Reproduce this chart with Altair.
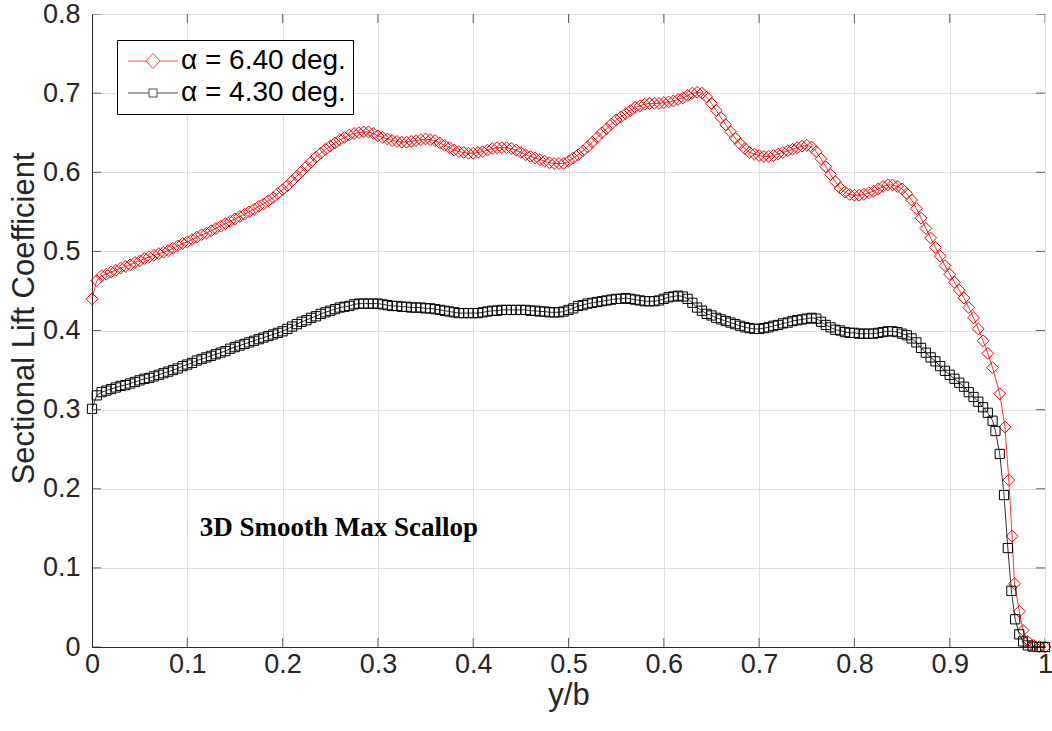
import altair as alt
import pandas as pd

# ---------------- data ----------------
x_main = [round(i * 0.005, 3) for i in range(190)]  # spanwise stations 0 .. 0.945

cl_red_main = [
    0.440, 0.463, 0.469, 0.471, 0.474, 0.476, 0.479, 0.481, 0.483, 0.486,
    0.488, 0.491, 0.493, 0.495, 0.497, 0.499, 0.501, 0.504, 0.507, 0.510,
    0.512, 0.515, 0.518, 0.521, 0.523, 0.526, 0.529, 0.532, 0.535, 0.538,
    0.541, 0.544, 0.547, 0.550, 0.553, 0.557, 0.560, 0.564, 0.568, 0.573,
    0.578, 0.583, 0.589, 0.595, 0.601, 0.607, 0.613, 0.619, 0.624, 0.629,
    0.633, 0.637, 0.641, 0.644, 0.647, 0.649, 0.650, 0.651, 0.651, 0.649,
    0.646, 0.644, 0.642, 0.640, 0.639, 0.638, 0.638, 0.639, 0.640, 0.641,
    0.642, 0.641, 0.640, 0.637, 0.634, 0.631, 0.628, 0.626, 0.625, 0.624,
    0.624, 0.625, 0.626, 0.628, 0.630, 0.631, 0.631, 0.631, 0.630, 0.628,
    0.625, 0.622, 0.620, 0.618, 0.616, 0.614, 0.612, 0.611, 0.611, 0.611,
    0.614, 0.618, 0.622, 0.627, 0.632, 0.638, 0.644, 0.650, 0.655, 0.661,
    0.666, 0.670, 0.674, 0.678, 0.682, 0.684, 0.686, 0.687, 0.687, 0.687,
    0.688, 0.689, 0.690, 0.692, 0.694, 0.697, 0.700, 0.701, 0.700, 0.695,
    0.687, 0.678, 0.669, 0.660, 0.651, 0.643, 0.636, 0.630, 0.625, 0.623,
    0.621, 0.620, 0.620, 0.621, 0.623, 0.625, 0.627, 0.629, 0.631, 0.633,
    0.634, 0.632, 0.626, 0.617, 0.607, 0.597, 0.588, 0.580, 0.575, 0.572,
    0.571, 0.571, 0.572, 0.574, 0.576, 0.579, 0.582, 0.584, 0.584, 0.582,
    0.579, 0.573, 0.565, 0.554, 0.542, 0.529, 0.517, 0.505, 0.494, 0.482,
    0.471, 0.461, 0.451, 0.441, 0.429, 0.416, 0.402, 0.387, 0.371, 0.353,
]
x_red_tip = [0.9525, 0.958, 0.962, 0.9655, 0.968, 0.973, 0.977, 0.982, 0.988, 0.994, 1.0]
cl_red_tip = [0.320, 0.278, 0.211, 0.140, 0.080, 0.045, 0.021, 0.007, 0.002, 0.0005, 0.0]

cl_black_main = [
    0.301, 0.318, 0.322, 0.324, 0.326, 0.328, 0.330, 0.331, 0.333, 0.335,
    0.337, 0.339, 0.340, 0.342, 0.344, 0.346, 0.348, 0.350, 0.352, 0.355,
    0.357, 0.359, 0.362, 0.364, 0.366, 0.368, 0.370, 0.372, 0.374, 0.377,
    0.379, 0.381, 0.383, 0.385, 0.387, 0.389, 0.391, 0.393, 0.395, 0.397,
    0.399, 0.402, 0.405, 0.408, 0.411, 0.413, 0.416, 0.418, 0.421, 0.423,
    0.425, 0.427, 0.429, 0.430, 0.431, 0.433, 0.434, 0.434, 0.434, 0.434,
    0.434, 0.433, 0.432, 0.431, 0.431, 0.430, 0.430, 0.429, 0.429, 0.429,
    0.428, 0.428, 0.427, 0.426, 0.425, 0.424, 0.423, 0.422, 0.422, 0.422,
    0.422, 0.422, 0.423, 0.424, 0.425, 0.425, 0.426, 0.426, 0.426, 0.426,
    0.426, 0.426, 0.425, 0.425, 0.424, 0.424, 0.423, 0.423, 0.423, 0.424,
    0.426, 0.428, 0.431, 0.432, 0.434, 0.435, 0.436, 0.437, 0.438, 0.439,
    0.440, 0.440, 0.441, 0.440, 0.439, 0.438, 0.437, 0.437, 0.437, 0.438,
    0.440, 0.442, 0.443, 0.444, 0.443, 0.440, 0.435, 0.429, 0.425, 0.421,
    0.419, 0.416, 0.414, 0.412, 0.410, 0.408, 0.406, 0.404, 0.403, 0.402,
    0.402, 0.403, 0.404, 0.406, 0.407, 0.409, 0.410, 0.412, 0.413, 0.414,
    0.415, 0.416, 0.415, 0.411, 0.407, 0.404, 0.401, 0.400, 0.398, 0.397,
    0.397, 0.396, 0.396, 0.396, 0.396, 0.397, 0.398, 0.399, 0.399, 0.398,
    0.396, 0.394, 0.390, 0.385, 0.378, 0.372, 0.366, 0.361, 0.355, 0.349,
    0.344, 0.339, 0.334, 0.329, 0.322, 0.316, 0.310, 0.303, 0.296, 0.286,
]
x_black_tip = [0.948, 0.9525, 0.957, 0.961, 0.9647, 0.9687, 0.973, 0.977, 0.982, 0.987, 0.994, 1.0]
cl_black_tip = [0.273, 0.244, 0.192, 0.125, 0.071, 0.035, 0.016, 0.007, 0.002, 0.0005, 0.0, 0.0]

series_labels = ["α = 6.40 deg.", "α = 4.30 deg."]
series_colors = ["#ff0000", "#000000"]

x_ticks = [0, 0.1, 0.2, 0.3, 0.4, 0.5, 0.6, 0.7, 0.8, 0.9, 1]
y_ticks = [0, 0.1, 0.2, 0.3, 0.4, 0.5, 0.6, 0.7, 0.8]

annotation = "3D Smooth Max Scallop"
annotation_pos = (0.113, 0.151)

# ---------------- tables ----------------
df = pd.concat([
    pd.DataFrame({"x": x_main + x_red_tip, "cl": cl_red_main + cl_red_tip,
                  "series": series_labels[0]}),
    pd.DataFrame({"x": x_main + x_black_tip, "cl": cl_black_main + cl_black_tip,
                  "series": series_labels[1]}),
], ignore_index=True)

xt = pd.DataFrame({"t": x_ticks})
yt = pd.DataFrame({"t": y_ticks})

AX = "#262626"
FONT = "Liberation Sans"

xscale = alt.Scale(domain=[0, 1], nice=False)
yscale = alt.Scale(domain=[0, 0.8], nice=False)

X = alt.X("x:Q", scale=xscale, title="y/b",
          axis=alt.Axis(values=x_ticks, format="~g"))
Y = alt.Y("cl:Q", scale=yscale, title="Sectional Lift Coefficient",
          axis=alt.Axis(values=y_ticks, format="~g", titleY=304))

base = alt.Chart(df)

layers = []
for lab, col, shp, sz in [(series_labels[0], series_colors[0], "diamond", 140),
                          (series_labels[1], series_colors[1], "square", 85)]:
    sub = base.transform_filter(alt.datum.series == lab)
    layers.append(sub.mark_line(color=col, strokeWidth=0.8).encode(x=X, y=Y))
    layers.append(sub.mark_point(shape=shp, color=col, filled=False, size=sz,
                                 strokeWidth=1, opacity=1).encode(x=X, y=Y))

# legend-only layer (no visible marks); symbols = line with marker
leg_red = "M-1,0L0.8,0M2.2,0L4,0M1.5,-0.75L2.2,0L1.5,0.75L0.8,0Z"
leg_black = "M-1,0L1.1,0M1.9,0L4,0M1.1,-0.4L1.9,-0.4L1.9,0.4L1.1,0.4Z"
legend = alt.Legend(orient="none", legendX=25, legendY=26, title=None,
                    symbolSize=400, symbolStrokeWidth=1, labelFontSize=28,
                    labelFont=FONT, labelColor="#000000", labelOffset=29,
                    labelLimit=400, padding=7, rowPadding=4,
                    strokeColor="#000000", fillColor="#ffffff", cornerRadius=0)
legend_layer = base.transform_filter("datum.x > 5").mark_point(filled=False).encode(
    x=X, y=Y,
    color=alt.Color("series:N", scale=alt.Scale(domain=series_labels, range=series_colors),
                    legend=legend),
    shape=alt.Shape("series:N", scale=alt.Scale(domain=series_labels, range=[leg_red, leg_black]),
                    legend=legend),
)

ann = alt.Chart(pd.DataFrame({"x": [annotation_pos[0]], "cl": [annotation_pos[1]],
                              "t": [annotation]})).mark_text(
    align="left", baseline="middle", font="Liberation Serif", fontWeight="bold",
    fontSize=27, color="#000000").encode(x=X, y=Y, text="t:N")

# inward tick marks on all four sides
tk = dict(clip=True, size=18, thickness=1, color=AX)
tick_b = alt.Chart(xt).mark_tick(orient="vertical", **tk).encode(
    x=alt.X("t:Q", scale=xscale), y=alt.datum(0, scale=yscale))
tick_t = alt.Chart(xt).mark_tick(orient="vertical", **tk).encode(
    x=alt.X("t:Q", scale=xscale), y=alt.datum(0.8, scale=yscale))
tick_l = alt.Chart(yt).mark_tick(orient="horizontal", **tk).encode(
    y=alt.Y("t:Q", scale=yscale), x=alt.datum(0, scale=xscale))
tick_r = alt.Chart(yt).mark_tick(orient="horizontal", **tk).encode(
    y=alt.Y("t:Q", scale=yscale), x=alt.datum(1, scale=xscale))

chart = alt.layer(*layers, ann, tick_b, tick_t, tick_l, tick_r, legend_layer).properties(
    width=953, height=633,
    autosize=alt.AutoSizeParams(type="none"),
    padding={"left": 92, "top": 14, "right": 7, "bottom": 84},
    background="#ffffff",
).configure_view(
    stroke=AX, strokeWidth=1
).configure_axis(
    grid=True, gridColor="#dfdfdf", gridWidth=1,
    domain=True, domainColor=AX, domainWidth=1,
    ticks=False, labelFlush=False, labelOverlap=False,
    labelFont=FONT, labelFontSize=27, labelColor=AX,
    titleFont=FONT, titleFontSize=31, titleFontWeight="normal", titleColor=AX,
).configure_axisX(
    labelPadding=4, titlePadding=3
).configure_axisY(
    labelPadding=12, titlePadding=2
)

chart.save("out.html", embed_options={"renderer": "svg", "actions": False})
